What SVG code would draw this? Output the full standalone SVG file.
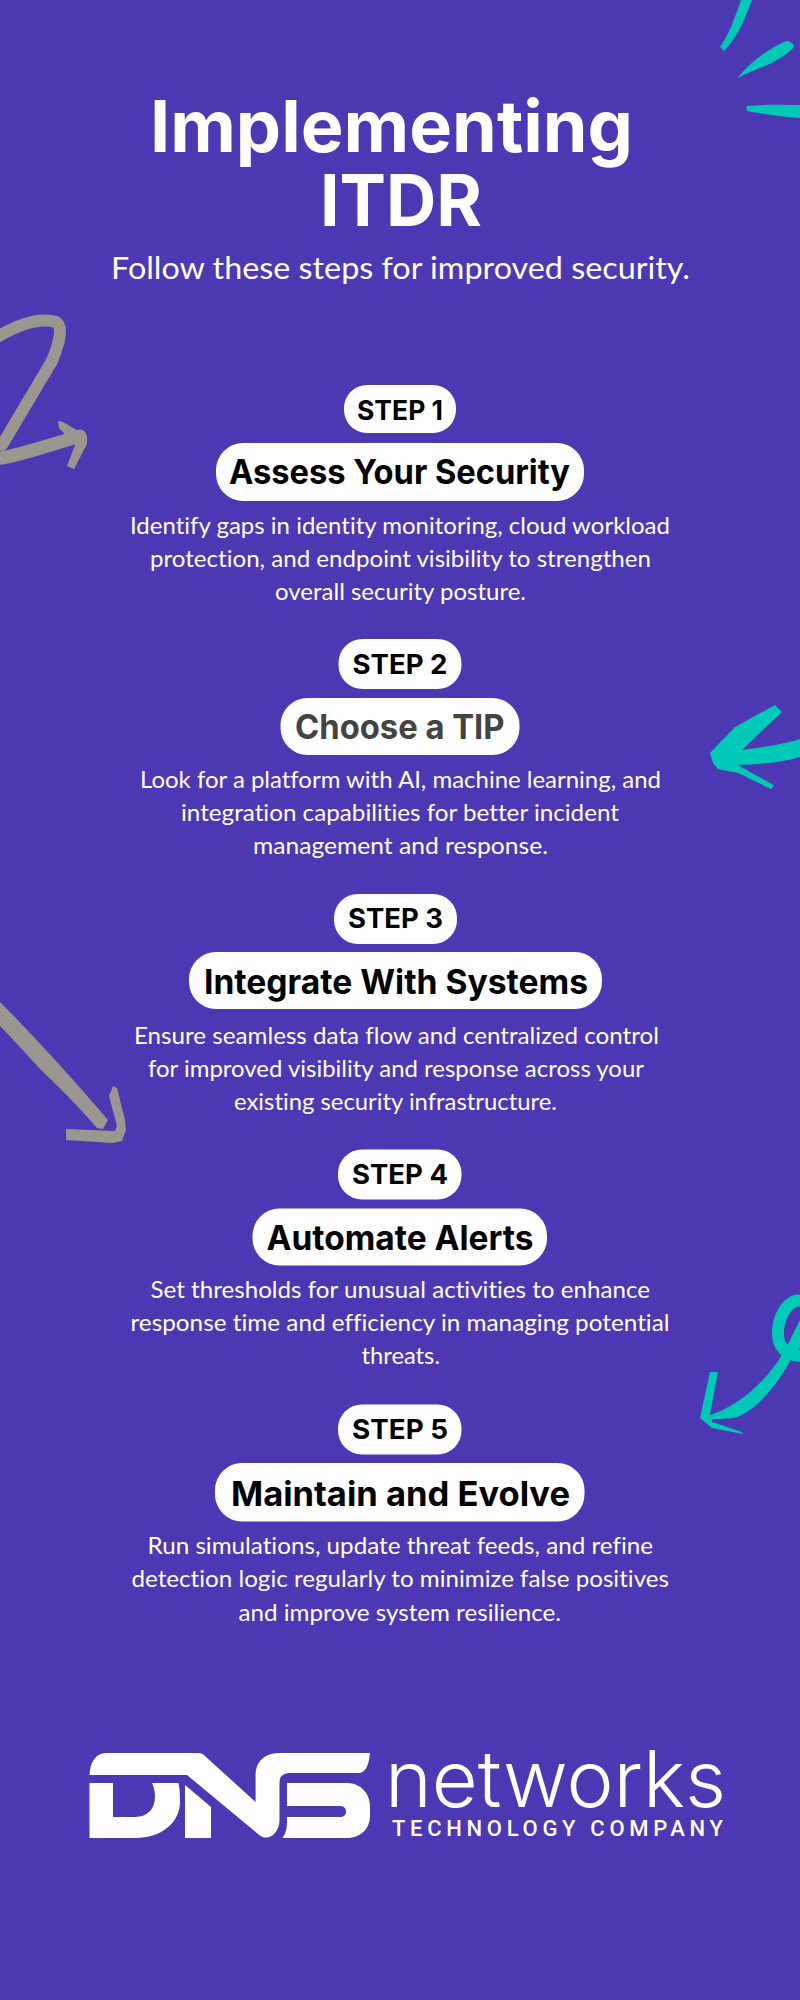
<svg xmlns="http://www.w3.org/2000/svg" width="800" height="2000" viewBox="0 0 800 2000">
<style>
text{font-variant-ligatures:none}
.h{font-family:"Inter","Liberation Sans",sans-serif;font-weight:700;font-size:72px;fill:#fff}
.sub{font-family:"Lato","Liberation Sans",sans-serif;font-weight:400;font-size:31px;fill:#fff}
.s{font-family:"Inter","Liberation Sans",sans-serif;font-weight:700;font-size:27px;fill:#000}
.t{font-family:"Inter","Liberation Sans",sans-serif;font-weight:700;font-size:34px;fill:#000}
.d{font-family:"Lato","Liberation Sans",sans-serif;font-weight:400;font-size:24px;fill:#fff}
.teal{fill:#00c9b7}.grey{fill:#9c9690}
.gs{fill:none;stroke:#9c9690;stroke-linecap:round;stroke-linejoin:round}
.ts{fill:none;stroke:#00c9b7}
.p{fill:#fff}
</style>
<rect width="800" height="2000" fill="#4c38b2"/>
<g id="decor-top-right">
<path class="teal" d="M741 0L752 0C746 16 739 36 724 51L720 47C729 34 735 18 741 0Z"/>
<path class="teal" d="M737 79C750 62 770 48 786 41C790 41 794 44 794 47C790 52 784 56 775 61C762 69 750 70 737 79Z"/>
<path class="teal" d="M746 106C765 104 785 105 800 105L800 118C782 117 765 114 747 111Z"/>
</g>
<g id="decor-grey-1">
<path class="gs" stroke-width="12" d="M-6 339C15 326 38 317 56 322C63 326 60 342 52 361L2 445"/>
<path class="gs" stroke-width="13" d="M-6 459C8 458 35 450 80 436"/>
<path class="grey" d="M58 421L63 422L87 436L87 444L74 469L67 466L75 445L59 428Z"/>
</g>
<g id="decor-teal-2">
<path class="teal" d="M775 705L782 712L742 750C765 747 785 744 800 739L800 757C780 763 760 764 738 765L770 783L774 786L771 789L738 773L718 769L713 763L710 753L735 727Z"/>
</g>
<g id="decor-grey-2">
<path class="grey" d="M0 1002C22 1024 62 1066 108 1120L103 1129L97 1128C80 1108 60 1088 42 1071C27 1055 14 1040 0 1026Z"/>
<path class="grey" d="M113 1086L117 1088L125 1120L126 1130L122 1141L113 1143L66 1140L66 1129L115 1131L117 1126L109 1096Z"/>
</g>
<g id="decor-teal-3">
<path class="ts" stroke-width="12" d="M803 1301C790 1298 780 1312 778 1330C777 1346 785 1356 803 1356"/>
<path class="teal" d="M710 1415C735 1407 765 1385 785 1350L800 1320L800 1347L792 1358C780 1380 760 1408 737 1417C728 1419 720 1419 712 1419L712 1422L742 1432L743 1434L712 1428L700 1418L710 1372L718 1372Z"/>
</g>
<g id="title">
<text class="h" x="150" y="152" textLength="483" lengthAdjust="spacingAndGlyphs">Implementing</text>
<text class="h" x="320" y="226" textLength="162" lengthAdjust="spacingAndGlyphs">ITDR</text>
<text class="sub" x="111" y="279" textLength="579" lengthAdjust="spacingAndGlyphs">Follow these steps for improved security.</text>
</g>
<g id="step-1">
<rect class="p" x="344" y="385" width="112" height="48" rx="23"/>
<text class="s" x="357" y="420" textLength="86" lengthAdjust="spacingAndGlyphs">STEP 1</text>
<rect class="p" x="216" y="443" width="368" height="58" rx="27"/>
<text class="t" x="229" y="484" textLength="341" lengthAdjust="spacingAndGlyphs">Assess Your Security</text>
<text class="d" x="130" y="533.5" textLength="540" lengthAdjust="spacingAndGlyphs">Identify gaps in identity monitoring, cloud workload</text>
<text class="d" x="150" y="567" textLength="501" lengthAdjust="spacingAndGlyphs">protection, and endpoint visibility to strengthen</text>
<text class="d" x="275" y="600" textLength="251" lengthAdjust="spacingAndGlyphs">overall security posture.</text>
</g>
<g id="step-2">
<rect class="p" x="338.5" y="639" width="123" height="50" rx="24"/>
<text class="s" x="352.5" y="673.5" textLength="95" lengthAdjust="spacingAndGlyphs">STEP 2</text>
<rect class="p" x="280.5" y="698" width="239" height="57" rx="27"/>
<text class="t" style="fill:#444340" x="295" y="738.5" textLength="209.5" lengthAdjust="spacingAndGlyphs">Choose a TIP</text>
<text class="d" x="140" y="787.5" textLength="521" lengthAdjust="spacingAndGlyphs">Look for a platform with AI, machine learning, and</text>
<text class="d" x="181" y="821" textLength="438" lengthAdjust="spacingAndGlyphs">integration capabilities for better incident</text>
<text class="d" x="253" y="854" textLength="295" lengthAdjust="spacingAndGlyphs">management and response.</text>
</g>
<g id="step-3">
<rect class="p" x="334" y="894" width="123" height="50" rx="24"/>
<text class="s" x="348" y="927.5" textLength="95" lengthAdjust="spacingAndGlyphs">STEP 3</text>
<rect class="p" x="189" y="952" width="413" height="57" rx="27"/>
<text class="t" x="204" y="993.5" textLength="384" lengthAdjust="spacingAndGlyphs">Integrate With Systems</text>
<text class="d" x="134" y="1043.5" textLength="525" lengthAdjust="spacingAndGlyphs">Ensure seamless data flow and centralized control</text>
<text class="d" x="148" y="1077" textLength="496" lengthAdjust="spacingAndGlyphs">for improved visibility and response across your</text>
<text class="d" x="234" y="1110" textLength="323" lengthAdjust="spacingAndGlyphs">existing security infrastructure.</text>
</g>
<g id="step-4">
<rect class="p" x="338" y="1149.5" width="123.5" height="50" rx="24"/>
<text class="s" x="352" y="1183.5" textLength="96" lengthAdjust="spacingAndGlyphs">STEP 4</text>
<rect class="p" x="252.5" y="1208.5" width="294.5" height="57" rx="27"/>
<text class="t" x="266.5" y="1250" textLength="267" lengthAdjust="spacingAndGlyphs">Automate Alerts</text>
<text class="d" x="150.5" y="1297.5" textLength="499.5" lengthAdjust="spacingAndGlyphs">Set thresholds for unusual activities to enhance</text>
<text class="d" x="130.5" y="1331" textLength="539" lengthAdjust="spacingAndGlyphs">response time and efficiency in managing potential</text>
<text class="d" x="361.5" y="1364" textLength="78.5" lengthAdjust="spacingAndGlyphs">threats.</text>
</g>
<g id="step-5">
<rect class="p" x="338" y="1404.5" width="123.5" height="50" rx="24"/>
<text class="s" x="352" y="1438.5" textLength="96" lengthAdjust="spacingAndGlyphs">STEP 5</text>
<rect class="p" x="215" y="1463" width="369.5" height="58.5" rx="27"/>
<text class="t" x="231" y="1506" textLength="339" lengthAdjust="spacingAndGlyphs">Maintain and Evolve</text>
<text class="d" x="147.5" y="1553.5" textLength="505.5" lengthAdjust="spacingAndGlyphs">Run simulations, update threat feeds, and refine</text>
<text class="d" x="131.5" y="1587" textLength="537.5" lengthAdjust="spacingAndGlyphs">detection logic regularly to minimize false positives</text>
<text class="d" x="238.5" y="1620.5" textLength="322.5" lengthAdjust="spacingAndGlyphs">and improve system resilience.</text>
</g>
<g id="logo">
<path class="p" d="M89.5 1775C90 1762 96 1753 106 1753L198 1753Q203 1753 206 1757L255.6 1802L255.6 1775C256 1760 266 1753 280 1753L370 1753C369 1763 367 1771 360 1773L291 1773C283 1773 279.5 1776 279.5 1783L279.5 1820C279.5 1834 267 1843 258 1834L187 1775Z"/>
<path class="p" d="M89.5 1783L113 1783L113 1817L135 1817C148 1817 155 1808 155 1797C155 1792 154 1787 152 1783L178.5 1783C180 1790 180 1795 180 1802C180 1822 162 1838 135 1838L89.5 1838Z"/>
<path class="p" d="M185 1785L211 1807L211 1838L185 1838Z"/>
<path class="p" d="M287 1783L347 1783C361 1783 370 1794 370 1806L370 1816C370 1828 361 1838 347 1838L282.5 1838C286 1833 287 1828 287 1822L287 1817L339 1817C344 1817 346 1815 346 1811.5C346 1808 344 1806 339 1806L287 1806Z"/>
<text x="385" y="1807" font-family="Inter,'Liberation Sans',sans-serif" font-weight="300" font-size="78" fill="#fff" textLength="341" lengthAdjust="spacingAndGlyphs">networks</text>
<text x="392" y="1836" font-family="Roboto,'Liberation Sans',sans-serif" font-weight="500" font-size="22" fill="#fff" textLength="331" lengthAdjust="spacing">TECHNOLOGY COMPANY</text>
</g>
</svg>
